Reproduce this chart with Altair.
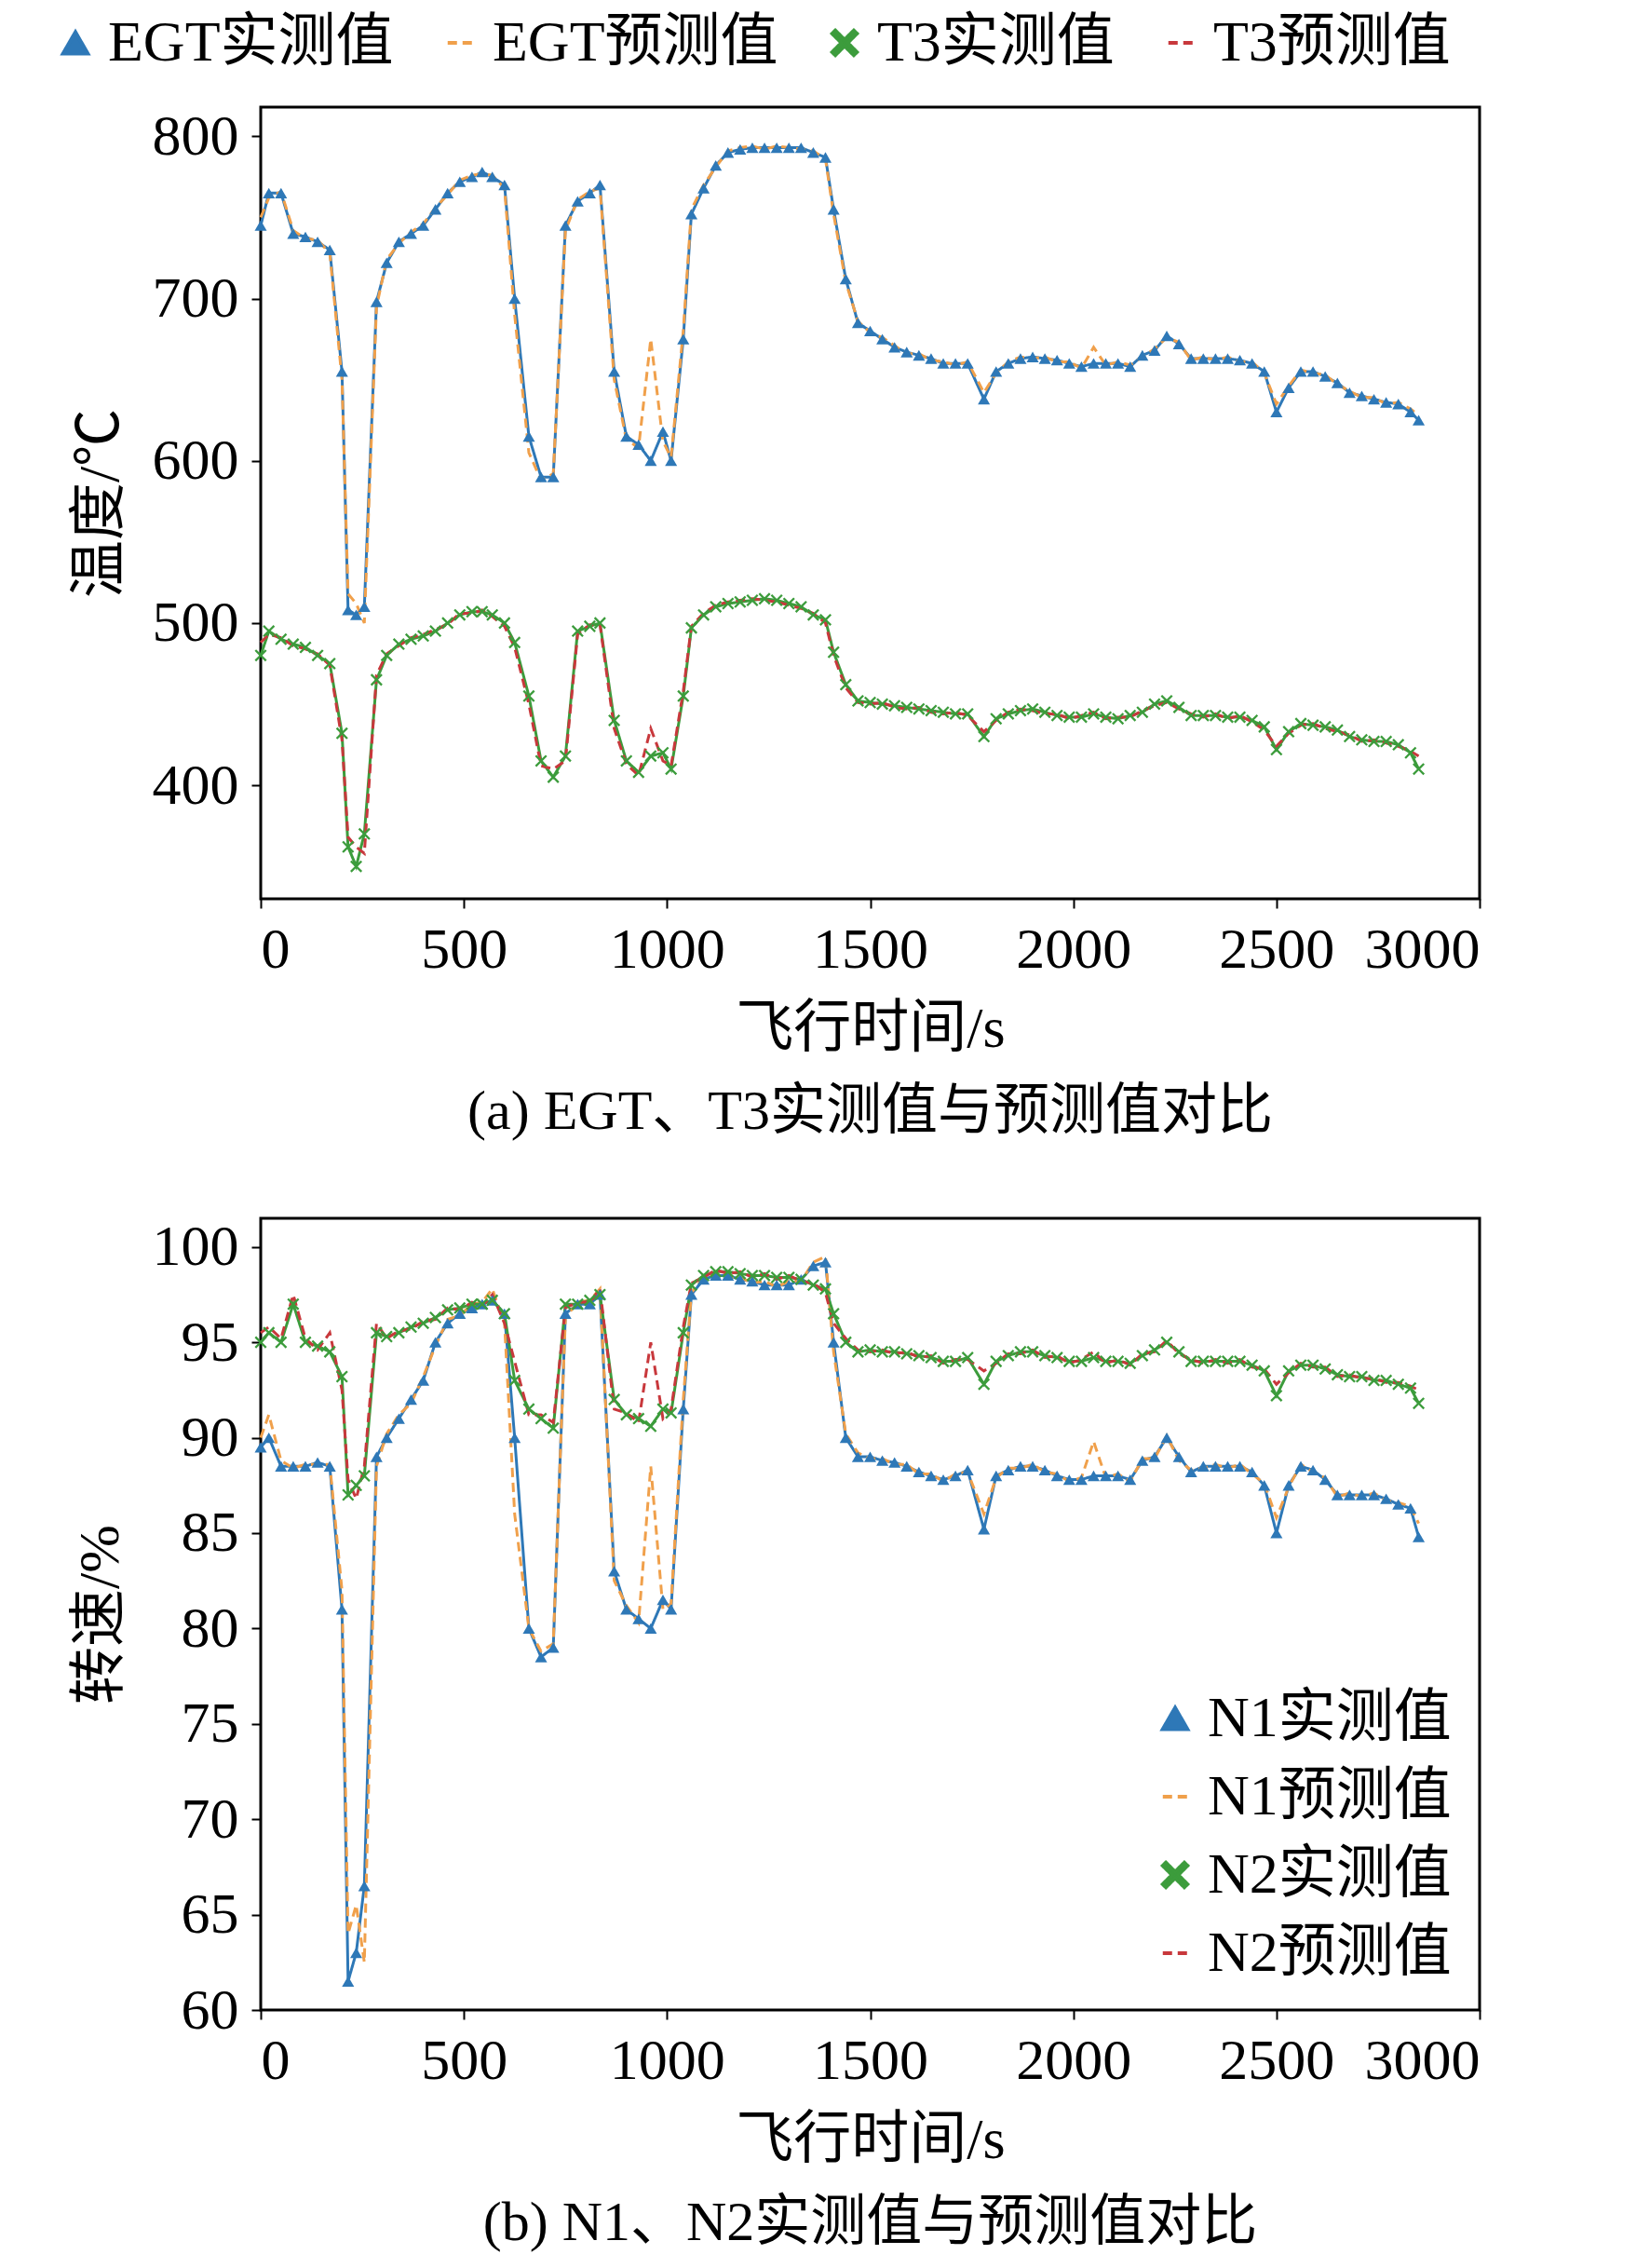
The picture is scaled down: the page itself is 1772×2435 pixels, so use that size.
import altair as alt
import pandas as pd

# 飞行时间 (s)，两幅子图共用
TIME = [0, 20, 50, 80, 110, 140, 170, 200, 215, 235, 255, 285, 310, 340, 370, 400, 430, 460, 490, 520,
        545, 570, 600, 625, 660, 690, 720, 750, 780, 810, 835, 870, 900, 930, 960, 990, 1010, 1040, 1060, 1090,
        1120, 1150, 1180, 1210, 1240, 1270, 1300, 1330, 1360, 1390, 1410, 1440, 1470, 1500, 1530, 1560, 1590, 1620, 1650, 1680,
        1710, 1740, 1780, 1810, 1840, 1870, 1900, 1930, 1960, 1990, 2020, 2050, 2080, 2110, 2140, 2170, 2200, 2230, 2260, 2290,
        2320, 2350, 2380, 2410, 2440, 2470, 2500, 2530, 2560, 2590, 2620, 2650, 2680, 2710, 2740, 2770, 2800, 2830, 2850]

EGT_MEAS = [745, 765, 765, 740, 738, 735, 730, 655, 508, 505, 510, 698, 722, 735, 740, 745, 755, 765, 772, 775,
            778, 775, 770, 700, 615, 590, 590, 745, 760, 765, 770, 655, 615, 610, 600, 618, 600, 675, 752, 768,
            782, 790, 792, 793, 793, 793, 793, 793, 790, 787, 755, 712, 685, 680, 675, 670, 667, 665, 663, 660,
            660, 660, 638, 655, 660, 663, 664, 663, 662, 660, 658, 660, 660, 660, 658, 665, 668, 677, 672, 663,
            663, 663, 663, 662, 660, 655, 630, 645, 655, 655, 652, 648, 642, 640, 638, 636, 635, 630, 625]
EGT_PRED = [750, 762, 766, 742, 737, 736, 728, 650, 518, 512, 500, 695, 724, 734, 741, 746, 756, 764, 773, 776,
            777, 776, 768, 690, 605, 588, 592, 742, 761, 766, 768, 650, 613, 608, 675, 612, 602, 680, 755, 770,
            781, 791, 793, 794, 792, 794, 793, 792, 791, 786, 752, 710, 686, 679, 676, 671, 666, 666, 662, 661,
            659, 661, 642, 654, 661, 664, 663, 664, 661, 661, 657, 670, 659, 661, 659, 664, 669, 676, 673, 662,
            664, 662, 664, 661, 661, 654, 635, 646, 656, 654, 653, 647, 643, 639, 639, 635, 636, 632, 628]
T3_MEAS = [480, 495, 490, 487, 485, 480, 475, 432, 362, 350, 370, 465, 480, 487, 490, 492, 495, 500, 505, 507,
           507, 505, 500, 488, 455, 415, 405, 418, 495, 498, 500, 440, 415, 408, 418, 420, 410, 455, 497, 505,
           510, 512, 513, 514, 515, 514, 512, 510, 505, 502, 482, 462, 452, 451, 450, 449, 448, 447, 446, 445,
           444, 444, 430, 441, 444, 446, 447, 445, 443, 442, 442, 444, 442, 441, 443, 445, 450, 452, 448, 443,
           443, 443, 442, 442, 440, 436, 422, 433, 438, 437, 436, 434, 430, 428, 427, 427, 425, 420, 410]
T3_PRED = [488, 493, 491, 486, 484, 481, 474, 428, 368, 362, 358, 468, 481, 486, 491, 493, 496, 499, 506, 506,
           508, 504, 498, 485, 450, 412, 410, 415, 493, 499, 499, 435, 413, 406, 435, 415, 412, 458, 498, 506,
           511, 513, 514, 515, 514, 513, 511, 509, 506, 500, 480, 460, 451, 450, 451, 448, 447, 448, 445, 444,
           445, 443, 433, 440, 445, 447, 446, 444, 444, 441, 443, 445, 441, 442, 442, 446, 449, 451, 447, 444,
           442, 444, 441, 443, 439, 434, 424, 432, 437, 438, 435, 433, 431, 427, 428, 426, 424, 421, 418]

N1_MEAS = [89.5, 90.0, 88.5, 88.5, 88.5, 88.7, 88.5, 81.0, 61.5, 63.0, 66.5, 89.0, 90.0, 91.0, 92.0, 93.0, 95.0, 96.0, 96.5, 96.8,
           97.0, 97.2, 96.5, 90.0, 80.0, 78.5, 79.0, 96.5, 97.0, 97.0, 97.5, 83.0, 81.0, 80.5, 80.0, 81.5, 81.0, 91.5, 97.5, 98.3,
           98.5, 98.5, 98.3, 98.2, 98.0, 98.0, 98.0, 98.3, 99.0, 99.2, 95.0, 90.0, 89.0, 89.0, 88.8, 88.7, 88.5, 88.2, 88.0, 87.8,
           88.0, 88.3, 85.2, 88.0, 88.3, 88.5, 88.5, 88.3, 88.0, 87.8, 87.8, 88.0, 88.0, 88.0, 87.8, 88.8, 89.0, 90.0, 89.0, 88.2,
           88.5, 88.5, 88.5, 88.5, 88.2, 87.5, 85.0, 87.5, 88.5, 88.3, 87.8, 87.0, 87.0, 87.0, 87.0, 86.8, 86.5, 86.3, 84.8]
N1_PRED = [90.0, 91.2, 88.8, 88.4, 88.6, 88.6, 88.6, 82.0, 64.0, 65.5, 62.5, 88.5, 90.2, 91.2, 91.8, 93.2, 94.8, 96.2, 96.4, 97.0,
           97.1, 97.8, 96.0, 86.0, 80.0, 78.8, 79.2, 96.3, 97.1, 97.2, 97.8, 82.5, 81.2, 80.3, 88.5, 81.0, 81.3, 92.0, 97.6, 98.4,
           98.6, 98.4, 98.4, 98.1, 98.2, 97.9, 98.2, 98.2, 99.2, 99.5, 94.5, 90.2, 89.2, 88.9, 88.9, 88.6, 88.6, 88.1, 88.1, 87.7,
           88.1, 88.2, 86.0, 87.9, 88.4, 88.4, 88.6, 88.2, 88.1, 87.7, 87.9, 89.8, 87.9, 88.1, 87.7, 88.9, 88.9, 90.1, 88.8, 88.3,
           88.4, 88.6, 88.4, 88.6, 88.1, 87.6, 85.8, 87.4, 88.6, 88.2, 87.9, 86.9, 87.1, 86.9, 87.1, 86.7, 86.6, 86.4, 85.5]
N2_MEAS = [95.0, 95.5, 95.0, 97.0, 95.0, 94.8, 94.5, 93.2, 87.0, 87.5, 88.0, 95.5, 95.3, 95.5, 95.8, 96.0, 96.3, 96.7, 96.8, 97.0,
           97.0, 97.2, 96.5, 93.0, 91.5, 91.0, 90.5, 97.0, 97.0, 97.2, 97.5, 92.0, 91.2, 91.0, 90.6, 91.5, 91.3, 95.5, 98.0, 98.5,
           98.7, 98.7, 98.6, 98.5, 98.5, 98.4, 98.4, 98.3, 98.0, 97.8, 96.5, 95.0, 94.5, 94.6, 94.5, 94.5, 94.4, 94.3, 94.2, 94.0,
           94.0, 94.2, 92.8, 94.0, 94.3, 94.5, 94.5, 94.3, 94.2, 94.0, 94.0, 94.2, 94.0, 94.0, 93.9, 94.3, 94.6, 95.0, 94.5, 94.0,
           94.0, 94.0, 94.0, 94.0, 93.8, 93.5, 92.2, 93.5, 93.8, 93.8, 93.6, 93.3, 93.2, 93.2, 93.0, 93.0, 92.8, 92.6, 91.8]
N2_PRED = [95.5, 95.8, 95.2, 97.5, 95.2, 94.6, 95.5, 92.5, 87.8, 86.8, 88.5, 96.0, 95.2, 95.6, 95.7, 96.1, 96.2, 96.8, 96.7, 97.1,
           96.9, 97.5, 96.0, 94.0, 91.2, 91.2, 90.8, 96.8, 97.1, 97.1, 97.8, 91.5, 91.3, 90.8, 95.0, 91.0, 91.5, 95.8, 98.1, 98.4,
           98.8, 98.6, 98.7, 98.4, 98.6, 98.3, 98.5, 98.2, 98.1, 97.6, 96.0, 95.2, 94.6, 94.5, 94.6, 94.4, 94.5, 94.2, 94.3, 93.9,
           94.1, 94.1, 93.5, 93.9, 94.4, 94.4, 94.6, 94.2, 94.3, 93.9, 94.1, 94.5, 93.9, 94.1, 93.8, 94.4, 94.5, 95.1, 94.4, 94.1,
           93.9, 94.1, 93.9, 94.1, 93.7, 93.6, 92.8, 93.4, 93.9, 93.7, 93.7, 93.2, 93.3, 93.1, 93.1, 92.9, 92.9, 92.7, 92.5]

FONT = "Liberation Serif, Noto Sans CJK SC"
COLORS = ["#2e78b7", "#f0a04b", "#3c9c3c", "#c8383c"]
DASHES = [[1, 0], [10, 6], [1, 0], [10, 6]]
XMARK = "M-1,-0.75L-0.75,-1L0,-0.25L0.75,-1L1,-0.75L0.25,0L1,0.75L0.75,1L0,0.25L-0.75,1L-1,0.75L-0.25,0Z"
SHAPES = ["triangle-up", "stroke", XMARK, "stroke"]


def long_frame(names, series):
    rows = []
    for name, vals in zip(names, series):
        for t, v in zip(TIME, vals):
            rows.append({"t": t, "v": v, "series": name})
    return pd.DataFrame(rows)


def panel(names, series, y_title, y_dom, y_ticks, caption, legend):
    df = long_frame(names, series)
    color = alt.Color("series:N", scale=alt.Scale(domain=names, range=COLORS), legend=legend, title=None)
    dash = alt.StrokeDash("series:N", scale=alt.Scale(domain=names, range=DASHES), legend=legend, title=None)
    shape = alt.Shape("series:N", scale=alt.Scale(domain=names, range=SHAPES), legend=legend, title=None)
    x = alt.X("t:Q", title="飞行时间/s", scale=alt.Scale(domain=[0, 3000], nice=False),
              axis=alt.Axis(values=[0, 500, 1000, 1500, 2000, 2500, 3000], format="d"))
    y = alt.Y("v:Q", title=y_title, scale=alt.Scale(domain=y_dom, nice=False, zero=False),
              axis=alt.Axis(values=y_ticks, format="d"))
    lines = alt.Chart(df).mark_line(strokeWidth=3).encode(x=x, y=y, color=color, strokeDash=dash,
                                                           order="t:Q")
    pts = (alt.Chart(df).transform_filter(alt.FieldOneOfPredicate(field="series", oneOf=[names[0], names[2]]))
           .mark_point(filled=True, size=170, opacity=1)
           .encode(x=x, y=y, color=color, shape=shape))
    return (lines + pts).properties(
        width=1309, height=850,
        title=alt.TitleParams(caption, orient="bottom", fontSize=60, font=FONT, fontWeight="normal", offset=30),
    )


top = panel(["EGT实测值", "EGT预测值", "T3实测值", "T3预测值"], [EGT_MEAS, EGT_PRED, T3_MEAS, T3_PRED],
            "温度/℃", [330, 818], [400, 500, 600, 700, 800], "(a) EGT、T3实测值与预测值对比",
            alt.Legend(orient="none", legendX=-230, legendY=-100, direction="horizontal", symbolSize=700,
                       symbolStrokeWidth=4, labelFontSize=62, columnPadding=40, labelLimit=500))
bottom = panel(["N1实测值", "N1预测值", "N2实测值", "N2预测值"], [N1_MEAS, N1_PRED, N2_MEAS, N2_PRED],
               "转速/%", [60, 101.5], [60, 65, 70, 75, 80, 85, 90, 95, 100], "(b) N1、N2实测值与预测值对比",
               alt.Legend(orient="bottom-right", direction="vertical", offset=30, symbolSize=700,
                          symbolStrokeWidth=4, labelFontSize=62, rowPadding=22, labelLimit=500))

chart = (
    alt.vconcat(top, bottom, spacing=80)
    .resolve_scale(color="independent", strokeDash="independent", shape="independent")
    .properties(padding={"left": 40, "top": 5, "right": 5, "bottom": 5})
    .configure_view(stroke="black", strokeWidth=3)
    .configure_axis(labelFont=FONT, titleFont=FONT, labelFontSize=62, titleFontSize=62, titleFontWeight="normal",
                    grid=False, domain=False, tickColor="black", tickSize=10, tickWidth=2,
                    labelColor="black", titleColor="black", labelPadding=14, titlePadding=24)
    .configure_legend(labelFont=FONT, labelColor="black")
)
chart.save("out.html", embed_options={"renderer": "svg", "actions": False})
